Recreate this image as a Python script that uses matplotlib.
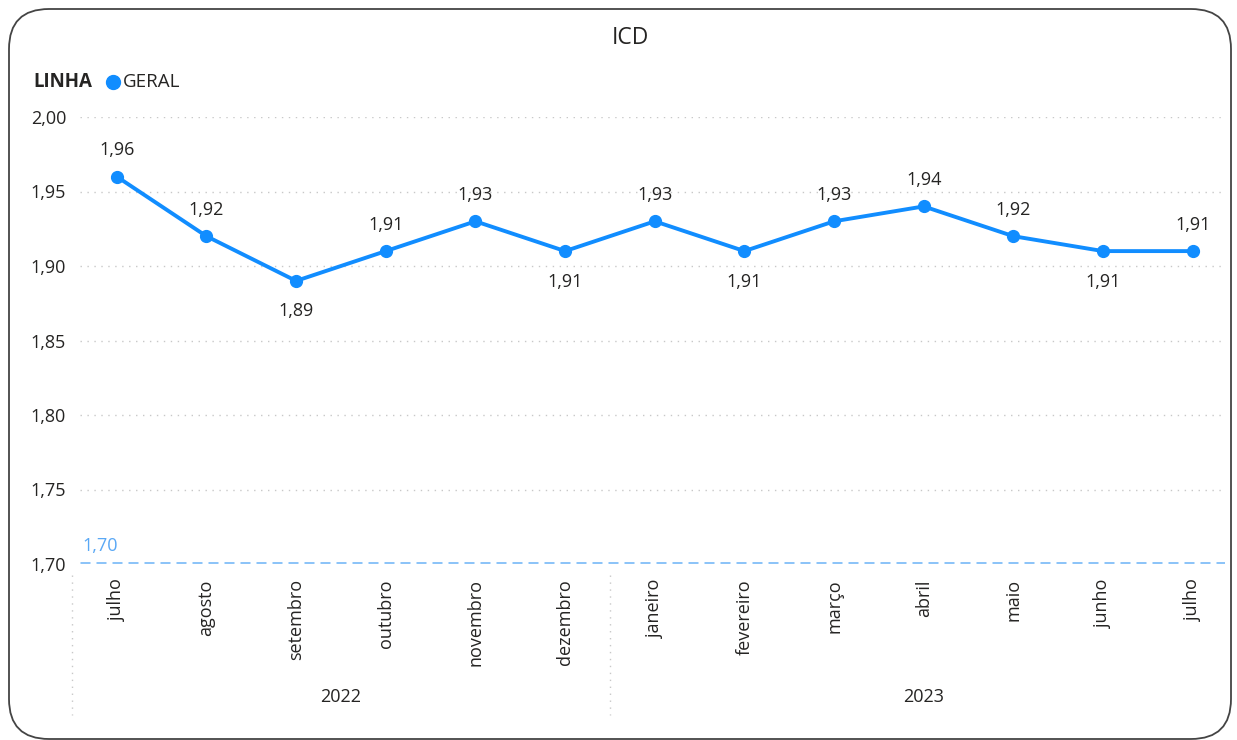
import matplotlib
matplotlib.use("Agg")
import matplotlib.pyplot as plt
from matplotlib.patches import FancyBboxPatch
from matplotlib.transforms import blended_transform_factory

months = ["julho", "agosto", "setembro", "outubro", "novembro", "dezembro",
          "janeiro", "fevereiro", "março", "abril", "maio", "junho", "julho"]
years = ["2022", "2023"]
year_groups = [(0, 5), (6, 12)]
values = [1.96, 1.92, 1.89, 1.91, 1.93, 1.91, 1.93, 1.91, 1.93, 1.94, 1.92, 1.91, 1.91]
label_below = [False, False, True, False, False, True, False, True, False, False, False, True, False]
ref_value = 1.70
yticks = [1.70, 1.75, 1.80, 1.85, 1.90, 1.95, 2.00]

def fmt(v):
    return f"{v:.2f}".replace(".", ",")

plt.rcParams['font.family'] = ['Open Sans', 'DejaVu Sans']
W, H = 1237, 740
fig = plt.figure(figsize=(W/100, H/100), dpi=100)

# rounded frame (pixel units via a scaled transform)
from matplotlib.transforms import Affine2D
pix = Affine2D().scale(1.0/W, 1.0/H) + fig.transFigure
frame = FancyBboxPatch((9, 1), 1222, 730,
                       boxstyle="round,pad=0,rounding_size=40",
                       transform=pix, fill=False,
                       edgecolor="#444444", linewidth=1.3)
fig.patches.append(frame)

ax = fig.add_axes([80/W, 1-564/H, (1225-80)/W, (564-117)/H])
blue = "#118DFF"
x = list(range(len(values)))
ax.plot(x, values, color=blue, linewidth=2.8, marker="o", markersize=8.5, zorder=4,
        solid_capstyle="round")
fs = 13
for xi, v, below in zip(x, values, label_below):
    if below:
        ax.annotate(fmt(v), (xi, v), xytext=(0, -22), textcoords="offset points",
                    ha="center", va="center", fontsize=fs, color="#252423")
    else:
        ax.annotate(fmt(v), (xi, v), xytext=(0, 19), textcoords="offset points",
                    ha="center", va="center", fontsize=fs, color="#252423")

ax.axhline(ref_value, color="#8DC4F8", linewidth=3.6, linestyle=(0, (2.0, 1.2)), zorder=3)
ax.text(-0.38, ref_value + 0.006, fmt(ref_value), color="#5AA8F5", fontsize=fs,
        ha="left", va="bottom")

ax.set_ylim(1.70, 2.00)
ax.set_xlim(-0.41, 12.36)
ax.set_yticks(yticks)
ax.set_yticklabels([fmt(t) for t in yticks], fontsize=fs, color="#252423")
for t in yticks[1:]:
    ax.axhline(t, color="#C8C8C8", linewidth=1.0, linestyle=(0, (1, 4)), zorder=1)
ax.set_xticks(x)
ax.set_xticklabels(months, rotation=90, fontsize=fs, color="#252423", va="top")
ax.tick_params(axis="both", length=0)
ax.tick_params(axis="x", pad=11)
ax.tick_params(axis="y", pad=10)
for s in ax.spines.values():
    s.set_visible(False)

trans = blended_transform_factory(ax.transData, fig.transFigure)
for (a, b), yr in zip(year_groups, years):
    ax.text((a + b) / 2, 1 - 697/H, yr, transform=trans, ha="center", va="center",
            fontsize=fs, color="#252423")
for sx in [-0.5, 5.5]:
    ax.plot([sx, sx], [1 - 575/H, 1 - 715/H], transform=trans, clip_on=False,
            color="#C8C8C8", linewidth=1.0, linestyle=(0, (1, 4)))

fig.text(630/W, 1 - 38/H, "ICD", ha="center", va="center", fontsize=16.5, color="#252423")
fig.text(33/W, 1 - 82/H, "LINHA", ha="left", va="center", fontsize=13.5,
         fontweight="bold", color="#252423")
fig.add_artist(plt.Line2D([113/W], [1 - 82/H], marker="o", markersize=10,
                          color=blue, transform=fig.transFigure))
fig.text(123/W, 1 - 82/H, "GERAL", ha="left", va="center", fontsize=13.5, color="#252423")

fig.savefig("out.png", dpi=100)
